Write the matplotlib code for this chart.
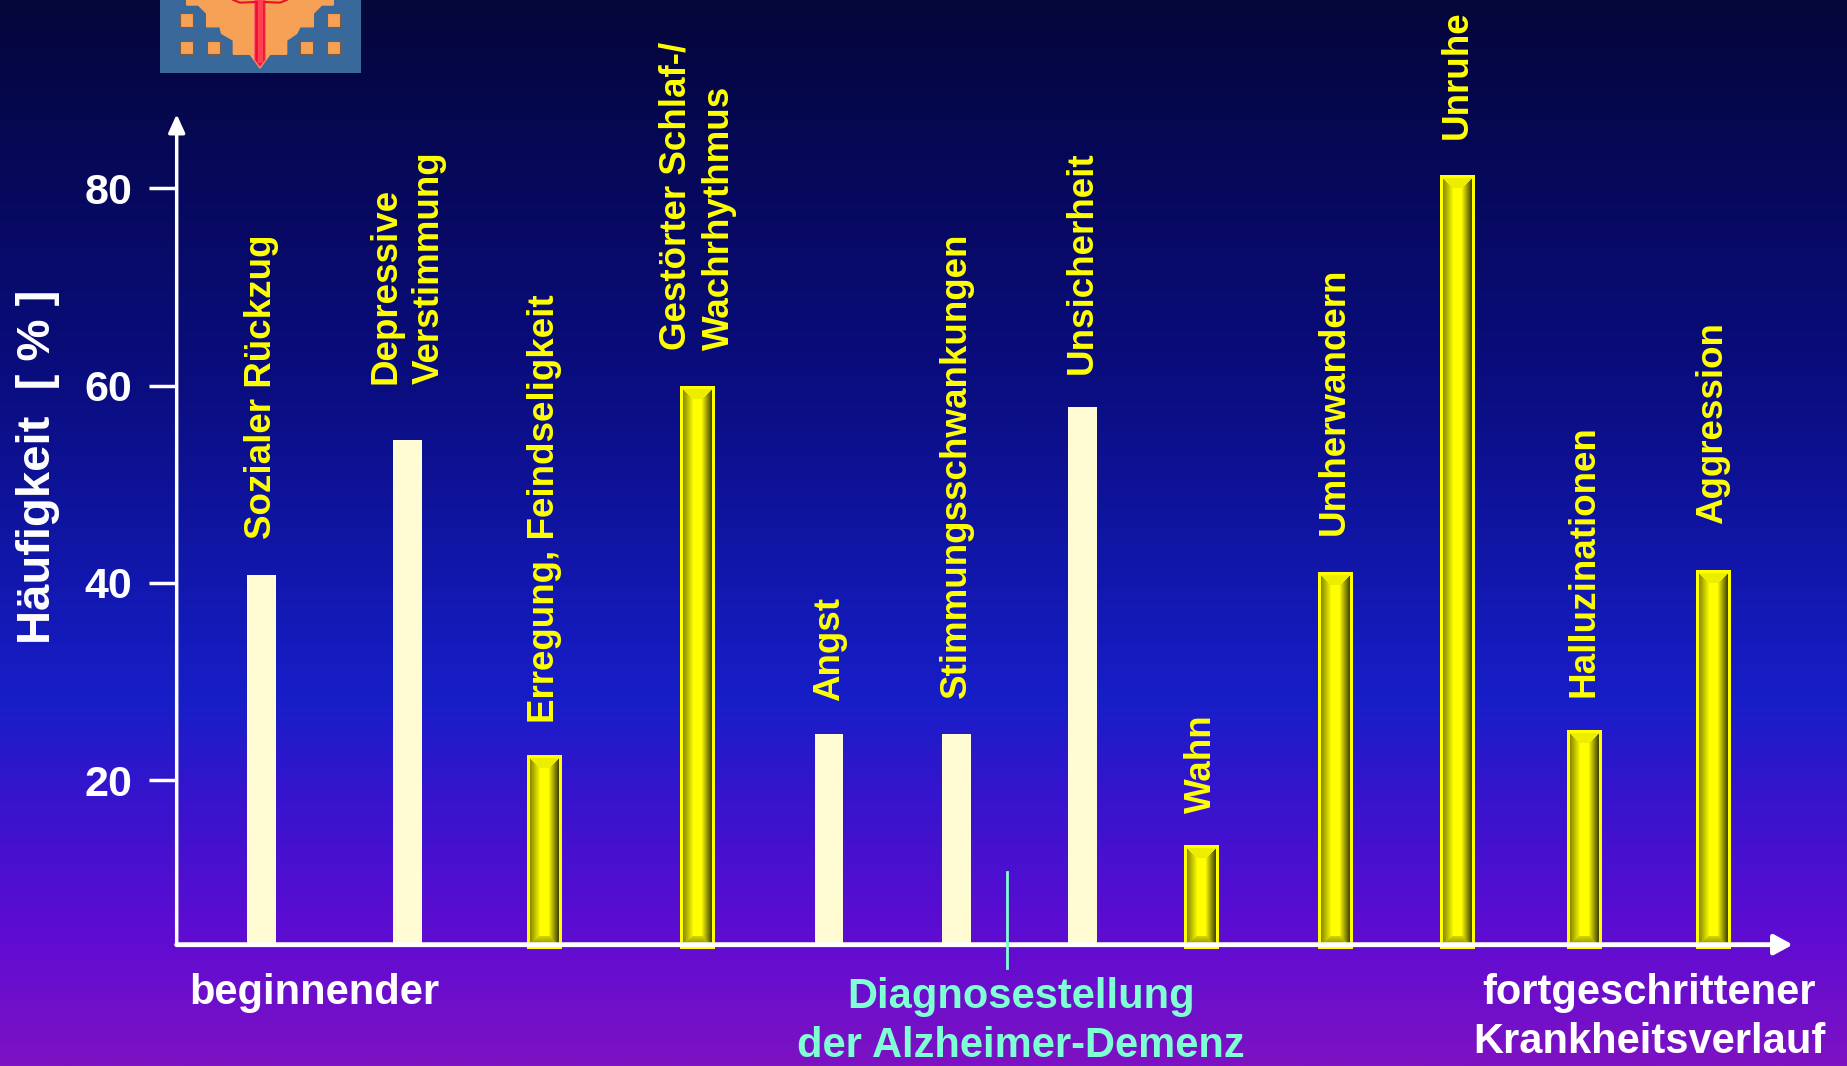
import numpy as np
import matplotlib
matplotlib.use("Agg")
import matplotlib.pyplot as plt
from matplotlib.colors import LinearSegmentedColormap
from matplotlib.patches import Polygon, Rectangle

# ---------------- data ----------------
categories = ["Sozialer Rückzug", "Depressive\nVerstimmung", "Erregung, Feindseligkeit",
              "Gestörter Schlaf-/\nWachrhythmus", "Angst", "Stimmungsschwankungen",
              "Unsicherheit", "Wahn", "Umherwandern", "Unruhe", "Halluzinationen", "Aggression"]
values = [40.8, 54.5, 22.6, 59.9, 24.7, 24.7, 57.8, 13.4, 41.1, 81.3, 25.1, 41.3]
highlighted = [False, False, True, True, False, False, False, True, True, True, True, True]
y_ticks = [20, 40, 60, 80]
y_label = "Häufigkeit  [ % ]"
left_text = "beginnender"
mid_text = "Diagnosestellung\nder Alzheimer-Demenz"
right_text = "fortgeschrittener\nKrankheitsverlauf"

# ---------------- layout ----------------
W_PX, H_PX = 1847, 1066
SRC_W, SRC_H = 1568, 905          # layout measured in these units
bar_x = [222, 346, 462, 592, 704, 812, 919, 1020, 1133, 1237, 1345, 1454]
label_pad = [26, 40, 23, 26, 24, 26, 24, 23, 27, 26, 24, 33]
diag_x = 855
x_lo, x_hi = 150, 1522
y_base, y_top = 3.34, 87.5
ax_bottom_px, ax_top_px = 802, 97

plt.rcParams['font.family'] = ['Liberation Sans', 'DejaVu Sans']
plt.rcParams['font.weight'] = 'bold'

fig = plt.figure(figsize=(W_PX / 100, H_PX / 100), dpi=100)

# background gradient
bg = fig.add_axes([0, 0, 1, 1])
stops = [(0.0, (5, 6, 58)), (0.15, (6, 8, 88)), (0.35, (10, 13, 125)), (0.55, (18, 24, 175)),
         (0.66, (24, 30, 200)), (0.75, (55, 20, 205)), (0.88, (95, 12, 210)), (1.0, (125, 18, 195))]
cmap = LinearSegmentedColormap.from_list("bg", [(p, tuple(c / 255 for c in col)) for p, col in stops])
grad = np.linspace(0, 1, 512).reshape(-1, 1)
bg.imshow(grad, aspect='auto', cmap=cmap, extent=(0, 1, 1, 0))
bg.set_xlim(0, 1); bg.set_ylim(1, 0)
bg.axis('off')

# logo (decorative), drawn in its own small pixel-like frame
lg = fig.add_axes([160 / W_PX, 1 - 73 / H_PX, 201 / W_PX, 73 / H_PX])
lg.set_xlim(60, 663); lg.set_ylim(218, 0); lg.axis('off')
lg.add_patch(Rectangle((60, 0), 603, 218, color='#39699a'))
orange = '#f6a155'
lg.add_patch(Polygon([(140, 0), (580, 0), (580, 15), (545, 15), (520, 40), (520, 80), (480, 80),
                      (470, 100), (440, 120), (440, 162), (390, 162), (360, 203), (330, 162),
                      (280, 162), (280, 120), (245, 100), (240, 80), (200, 80), (200, 40),
                      (175, 15), (140, 15)], closed=True, color=orange))
for (wx, wy) in [(120, 40), (560, 40), (120, 122), (200, 122), (480, 122), (560, 122)]:
    lg.add_patch(Rectangle((wx, wy), 40, 40, facecolor=orange, edgecolor='#7a5a40', lw=0.8))
lg.add_patch(Polygon([(344, 0), (376, 0), (376, 180), (360, 200), (344, 180)], closed=True,
                     facecolor='#e8102a', edgecolor='#ff6070', lw=0.8))
lg.add_patch(Rectangle((355, 0), 10, 185, color='#ff4050'))
lg.plot([280, 300, 344], [0, 8, 6], color='#e8102a', lw=1.5)
lg.plot([376, 420, 440], [6, 8, 0], color='#e8102a', lw=1.5)

# main axes
ax = fig.add_axes([x_lo / SRC_W, 1 - ax_bottom_px / SRC_H,
                   (x_hi - x_lo) / SRC_W, (ax_bottom_px - ax_top_px) / SRC_H])
ax.patch.set_alpha(0)
ax.set_xlim(x_lo, x_hi)
ax.set_ylim(y_base, y_top)
for s in ax.spines.values():
    s.set_visible(False)

cream = '#fffbd2'
px_per_unit = (ax_bottom_px - ax_top_px) / (y_top - y_base) * W_PX / SRC_W

def yellow_bar_image(wpx, hpx):
    band = max(3, int(round(wpx * 0.28)))
    border = 3
    img = np.zeros((hpx, wpx, 3))
    for r in range(hpx):
        d_top = r - border
        d_bot = hpx - 1 - border - r
        for c in range(wpx):
            if c < border or c >= wpx - border or r < border or r >= hpx - border:
                b = 1.0
            else:
                e_l = c - border
                e_r = wpx - border - 1 - c
                e = min(e_l, e_r)
                if d_bot < band and e >= d_bot:
                    b = 0.55 + 0.03 * d_bot
                elif d_top < band and e >= d_top:
                    b = 0.93
                elif e_l < band:
                    b = 0.55 + 0.45 * (e_l / band)
                elif e_r < band:
                    b = 0.28 + 0.72 * (e_r / band)
                else:
                    b = 1.0
            img[r, c, 0] = b
            img[r, c, 1] = b
    return img

for xc, v, hl in zip(bar_x, values, highlighted):
    if hl:
        w = 29
        hpx = int(round((v - y_base) * px_per_unit)) + 4
        wpx = int(round(w * W_PX / SRC_W))
        img = yellow_bar_image(wpx, hpx)
        ax.imshow(img, extent=(xc - w / 2, xc + w / 2, y_base - 0.4, v), aspect='auto',
                  interpolation='nearest', zorder=2, clip_on=False)
    else:
        ax.bar(xc, v, width=24, color=cream, zorder=2)

ax.set_xlim(x_lo, x_hi)
ax.set_ylim(y_base, y_top)

for xc, v, lab, pad in zip(bar_x, values, categories, label_pad):
    ax.annotate(lab, xy=(xc, v), xytext=(0, pad), textcoords='offset points', rotation=90,
                ha='center', va='bottom', multialignment='left', color='#ffff00',
                fontsize=26.5, fontweight='bold', linespacing=1.32, zorder=3)

# axes arrows
ax.annotate('', xy=(0, 1), xytext=(0, 0), xycoords='axes fraction',
            arrowprops=dict(arrowstyle='-|>,head_length=0.55,head_width=0.25', mutation_scale=20,
                            color='white', lw=2.5, shrinkA=0, shrinkB=0), zorder=4)
ax.annotate('', xy=(1, 0), xytext=(0, 0), xycoords='axes fraction',
            arrowprops=dict(arrowstyle='-|>,head_length=0.55,head_width=0.3', mutation_scale=20,
                            color='white', lw=3.5, shrinkA=0, shrinkB=0), zorder=4)

ax.set_xticks([])
ax.set_yticks(y_ticks)
ax.set_yticklabels([str(t) for t in y_ticks])
ax.tick_params(axis='y', colors='white', length=20, width=2.5, pad=12, labelsize=31)
for t in ax.get_yticklabels():
    t.set_fontweight('bold')

# diagnosis marker
ax.plot([diag_x, diag_x], [10.7, 0.95], color='#7fffd4', lw=2, clip_on=False, zorder=4)

# texts
fig.text(32 / SRC_W, 1 - 396 / SRC_H, y_label, rotation=90, ha='center', va='center',
         color='white', fontsize=34, fontweight='bold')
fig.text(267 / SRC_W, 1 - 843 / SRC_H, left_text, ha='center', va='center',
         color='white', fontsize=30, fontweight='bold')
fig.text(867 / SRC_W, 1 - 867 / SRC_H, mid_text, ha='center', va='center',
         color='#7fffd4', fontsize=30, fontweight='bold', linespacing=1.3)
fig.text(1400 / SRC_W, 1 - 864 / SRC_H, right_text, ha='center', va='center',
         color='white', fontsize=30, fontweight='bold', linespacing=1.3)

fig.savefig("out.png", dpi=100)
